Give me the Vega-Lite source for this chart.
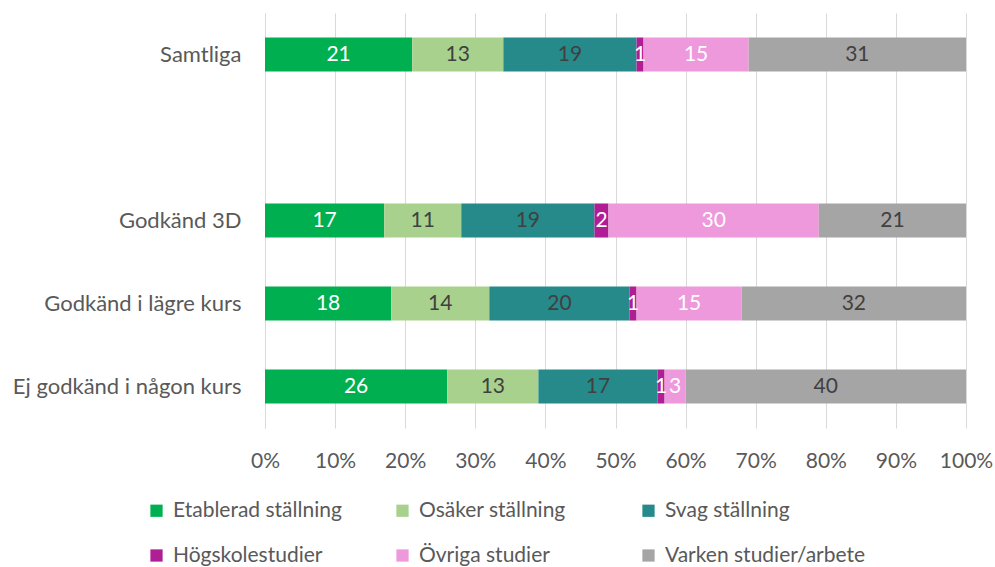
{
  "$schema": "https://vega.github.io/schema/vega-lite/v6.json",
  "autosize": {"type": "none"},
  "width": 701,
  "height": 415,
  "padding": {"left": 265, "top": 13, "right": 29, "bottom": 139},
  "background": "white",
  "config": {
    "view": {"stroke": null},
    "font": "Lato",
    "axis": {"labelFont": "Lato", "labelColor": "#595959", "labelFontSize": 21, "labelLimit": 400},
    "legend": {"labelFont": "Lato", "labelColor": "#595959", "labelFontSize": 21, "labelLimit": 400}
  },
  "data": {
    "values": [
      {"grupp": "Samtliga", "kategori": "Etablerad ställning", "k": 1, "andel": 21},
      {"grupp": "Samtliga", "kategori": "Osäker ställning", "k": 2, "andel": 13},
      {"grupp": "Samtliga", "kategori": "Svag ställning", "k": 3, "andel": 19},
      {"grupp": "Samtliga", "kategori": "Högskolestudier", "k": 4, "andel": 1},
      {"grupp": "Samtliga", "kategori": "Övriga studier", "k": 5, "andel": 15},
      {"grupp": "Samtliga", "kategori": "Varken studier/arbete", "k": 6, "andel": 31},
      {"grupp": "Godkänd 3D", "kategori": "Etablerad ställning", "k": 1, "andel": 17},
      {"grupp": "Godkänd 3D", "kategori": "Osäker ställning", "k": 2, "andel": 11},
      {"grupp": "Godkänd 3D", "kategori": "Svag ställning", "k": 3, "andel": 19},
      {"grupp": "Godkänd 3D", "kategori": "Högskolestudier", "k": 4, "andel": 2},
      {"grupp": "Godkänd 3D", "kategori": "Övriga studier", "k": 5, "andel": 30},
      {"grupp": "Godkänd 3D", "kategori": "Varken studier/arbete", "k": 6, "andel": 21},
      {"grupp": "Godkänd i lägre kurs", "kategori": "Etablerad ställning", "k": 1, "andel": 18},
      {"grupp": "Godkänd i lägre kurs", "kategori": "Osäker ställning", "k": 2, "andel": 14},
      {"grupp": "Godkänd i lägre kurs", "kategori": "Svag ställning", "k": 3, "andel": 20},
      {"grupp": "Godkänd i lägre kurs", "kategori": "Högskolestudier", "k": 4, "andel": 1},
      {"grupp": "Godkänd i lägre kurs", "kategori": "Övriga studier", "k": 5, "andel": 15},
      {"grupp": "Godkänd i lägre kurs", "kategori": "Varken studier/arbete", "k": 6, "andel": 32},
      {"grupp": "Ej godkänd i någon kurs", "kategori": "Etablerad ställning", "k": 1, "andel": 26},
      {"grupp": "Ej godkänd i någon kurs", "kategori": "Osäker ställning", "k": 2, "andel": 13},
      {"grupp": "Ej godkänd i någon kurs", "kategori": "Svag ställning", "k": 3, "andel": 17},
      {"grupp": "Ej godkänd i någon kurs", "kategori": "Högskolestudier", "k": 4, "andel": 1},
      {"grupp": "Ej godkänd i någon kurs", "kategori": "Övriga studier", "k": 5, "andel": 3},
      {"grupp": "Ej godkänd i någon kurs", "kategori": "Varken studier/arbete", "k": 6, "andel": 40}
    ]
  },
  "encoding": {
    "y": {
      "field": "grupp",
      "type": "nominal",
      "title": null,
      "scale": {
        "domain": ["Samtliga", " ", "Godkänd 3D", "Godkänd i lägre kurs", "Ej godkänd i någon kurs"],
        "paddingInner": 0.59,
        "paddingOuter": 0.295
      },
      "axis": {"ticks": false, "domain": true, "domainColor": "#D9D9D9", "labelPadding": 24, "labelFontSize": 22}
    }
  },
  "layer": [
    {
      "mark": {"type": "bar"},
      "encoding": {
        "x": {
          "field": "andel",
          "type": "quantitative",
          "stack": "normalize",
          "title": null,
          "scale": {"domain": [0, 1]},
          "axis": {
            "format": ".0%",
            "values": [0, 0.1, 0.2, 0.3, 0.4, 0.5, 0.6, 0.7, 0.8, 0.9, 1],
            "grid": true,
            "gridColor": "#D9D9D9",
            "domain": false,
            "ticks": false,
            "labelFlush": false,
            "labelOverlap": false,
            "labelPadding": 22
          }
        },
        "order": {"field": "k", "type": "quantitative"},
        "color": {
          "field": "kategori",
          "type": "nominal",
          "title": null,
          "scale": {
            "domain": ["Etablerad ställning", "Osäker ställning", "Svag ställning", "Högskolestudier", "Övriga studier", "Varken studier/arbete"],
            "range": ["#00B050", "#A9D18E", "#268A8A", "#B01E96", "#EE99DC", "#A5A5A5"]
          },
          "legend": {
            "orient": "none",
            "legendX": -119,
            "legendY": 487,
            "direction": "horizontal",
            "columns": 3,
            "gridAlign": "all",
            "symbolType": "square",
            "symbolSize": 150,
            "symbolStrokeWidth": 0,
            "labelOffset": 6,
            "columnPadding": 18,
            "rowPadding": 23
          }
        }
      }
    },
    {
      "mark": {"type": "text", "fontSize": 21, "font": "Lato", "baseline": "middle"},
      "encoding": {
        "x": {"field": "andel", "type": "quantitative", "stack": "normalize", "bandPosition": 0.5},
        "order": {"field": "k", "type": "quantitative"},
        "detail": {"field": "kategori"},
        "text": {"field": "andel", "type": "quantitative"},
        "color": {
          "condition": {"test": "indexof(['Etablerad ställning','Högskolestudier','Övriga studier'], datum.kategori) >= 0", "value": "white"},
          "value": "#404040"
        }
      }
    }
  ]
}
